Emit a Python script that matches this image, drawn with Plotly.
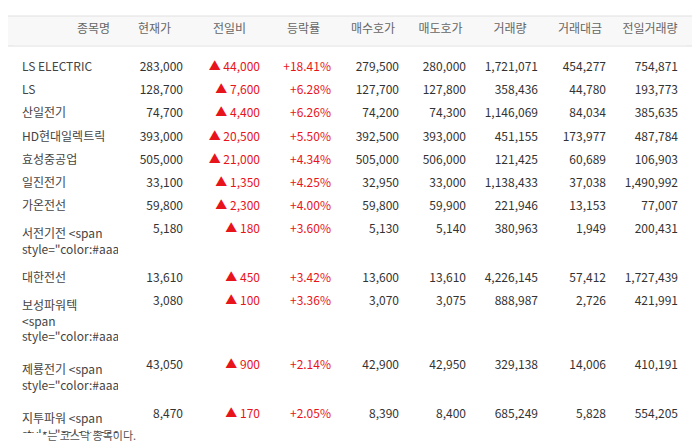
import plotly.graph_objects as go

H = 447
headers = ["종목명", "현재가", "전일비", "등락률", "매수호가", "매도호가", "거래량", "거래대금", "전일거래량"]
names = ["LS ELECTRIC", "LS", "산일전기", "HD현대일렉트릭", "효성중공업", "일진전기", "가온전선", "서전기전", "대한전선",
         "보성파워텍", "제룡전기", "지투파워", "LS에코에너지", "비나텍", "범한퓨얼셀", "제일일렉트릭"]
kosdaq = [False, False, False, False, False, False, False, True, False, True, True, True, False, True, True, True]
price = ["283,000", "128,700", "74,700", "393,000", "505,000", "33,100", "59,800", "5,180", "13,610", "3,080", "43,050", "8,470", "41,450", "26,550", "15,250", "12,030"]
change = ["44,000", "7,600", "4,400", "20,500", "21,000", "1,350", "2,300", "180", "450", "100", "900", "170", "750", "450", "160", "120"]
rate = ["+18.41%", "+6.28%", "+6.26%", "+5.50%", "+4.34%", "+4.25%", "+4.00%", "+3.60%", "+3.42%", "+3.36%", "+2.14%", "+2.05%", "+1.84%", "+1.72%", "+1.06%", "+1.01%"]
bid = ["279,500", "127,700", "74,200", "392,500", "505,000", "32,950", "59,800", "5,130", "13,600", "3,070", "42,900", "8,390", "41,250", "26,550", "15,270", "11,970"]
ask = ["280,000", "127,800", "74,300", "393,000", "506,000", "33,000", "59,900", "5,140", "13,610", "3,075", "42,950", "8,400", "41,300", "26,650", "15,290", "11,980"]
volume = ["1,721,071", "358,436", "1,146,069", "451,155", "121,425", "1,138,433", "221,946", "380,963", "4,226,145", "888,987", "329,138", "685,249", "391,853", "18,203", "34,121", "743,836"]
amount = ["454,277", "44,780", "84,034", "173,977", "60,689", "37,038", "13,153", "1,949", "57,412", "2,726", "14,006", "5,828", "16,066", "481", "521", "8,864"]
prev_vol = ["754,871", "193,773", "385,635", "487,784", "106,903", "1,490,992", "77,007", "200,431", "1,727,439", "421,991", "410,191", "554,205", "336,231", "19,987", "42,306", "1,486,619"]

RED = "#e8141b"
name_txt = [n + (' <span style="color:#aaaaaa">*</span>' if k else "") for n, k in zip(names, kosdaq)]
chg_txt = [f"▲ {c}" for c in change]

widths = [104, 73, 77, 71, 68, 67, 72, 68, 72]
xdom = [6 / 700, 678 / 700]
FONT = "Noto Sans CJK KR"

def yd(top, bot):
    return [1 - bot / H, 1 - top / H]

fig = go.Figure()
fig.add_trace(go.Table(
    domain=dict(x=xdom, y=yd(8, 38)),
    columnwidth=widths,
    header=dict(values=headers, height=30, fill_color="#f8f8f8", line_color="#f8f8f8",
                align=["right"] + ["center"] * 8,
                font=dict(family=FONT, size=12, color="#666666")),
    cells=dict(values=[[]] * 9),
))
fig.add_trace(go.Table(
    domain=dict(x=xdom, y=yd(45, 425)),
    columnwidth=widths,
    header=dict(values=[""] * 9, height=1, fill_color="white", line_color="white"),
    cells=dict(values=[name_txt, price, chg_txt, rate, bid, ask, volume, amount, prev_vol],
               height=23.2, fill_color="white", line_color="white",
               align=["left"] + ["right"] * 8,
               font=dict(family=FONT, size=12,
                         color=["#444444", "#333333", RED, RED] + ["#333333"] * 5)),
))
fig.add_shape(type="rect", xref="paper", yref="paper", x0=0, x1=6 / 700, y0=1 - 38 / H, y1=1 - 8 / H,
              fillcolor="#f8f8f8", line_width=0, layer="below")
fig.add_shape(type="rect", xref="paper", yref="paper", x0=678 / 700, x1=1, y0=1 - 38 / H, y1=1 - 8 / H,
              fillcolor="#f8f8f8", line_width=0, layer="below")
fig.add_shape(type="line", xref="paper", yref="paper", x0=0, x1=1, y0=1 - 8 / H, y1=1 - 8 / H,
              line=dict(color="#e0e0e0", width=1))
fig.add_shape(type="line", xref="paper", yref="paper", x0=0, x1=1, y0=1 - 38 / H, y1=1 - 38 / H,
              line=dict(color="#e0e0e0", width=1))
fig.add_annotation(text="*는 코스닥 종목이다.", xref="paper", yref="paper", x=32 / 700, y=1 - 427 / H,
                   xanchor="left", yanchor="middle", showarrow=False,
                   font=dict(family=FONT, size=11, color="#555555"))
fig.update_layout(width=700, height=H, margin=dict(l=0, r=0, t=0, b=0),
                  paper_bgcolor="white", plot_bgcolor="white")
fig.write_html("out.html")
